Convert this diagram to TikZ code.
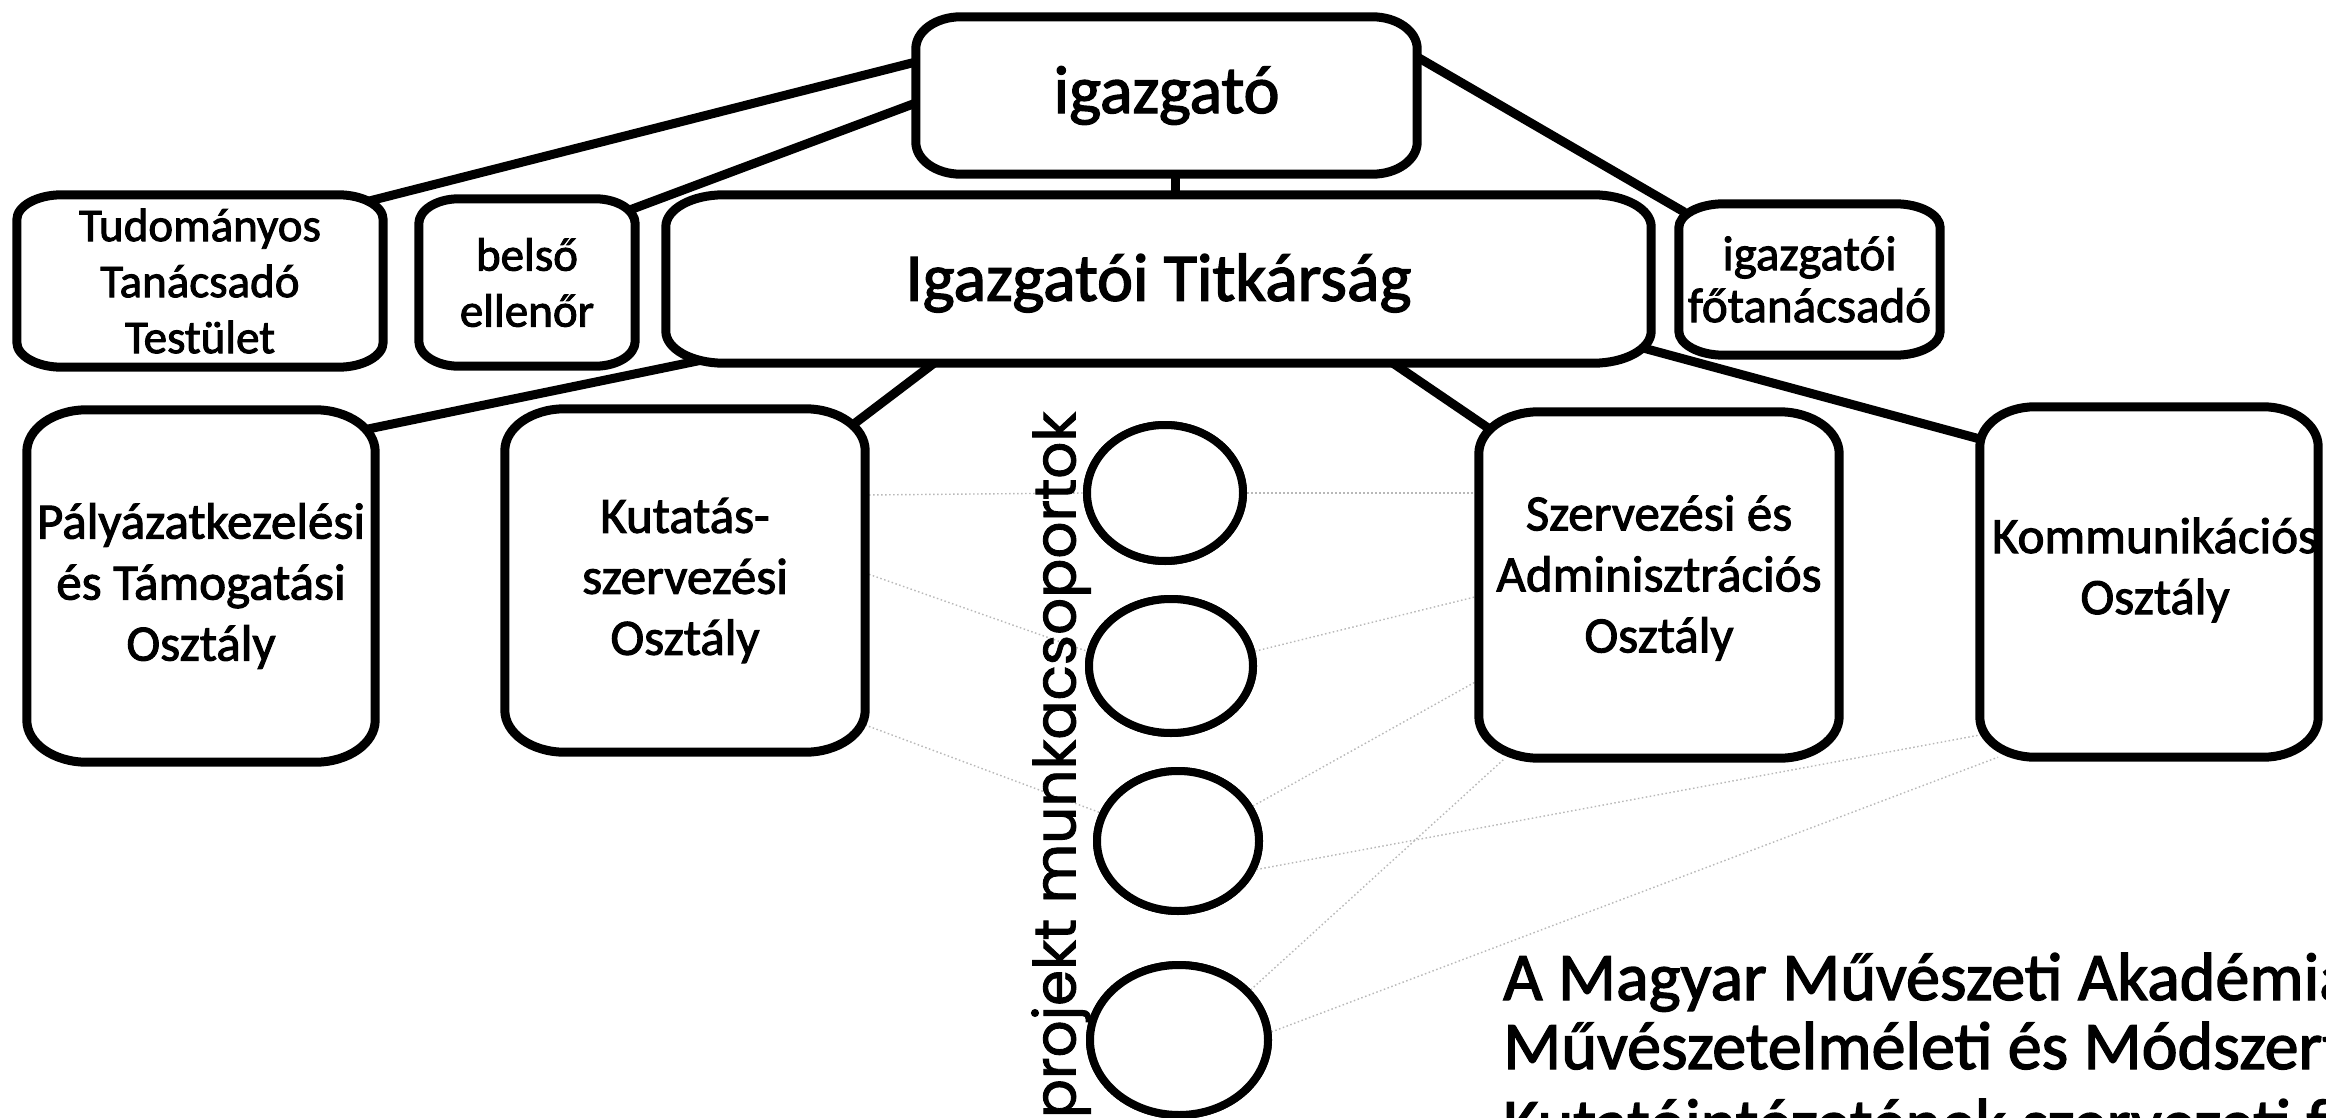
\documentclass[tikz,border=0pt]{standalone}
\usepackage{fontspec}
\setmainfont{Carlito}[FakeBold=2]
\newfontfamily\geofont{Poppins}[FakeBold=1.5]
\usetikzlibrary{shapes.geometric}
\newcommand\drawebox[3]{%
 \draw[boxline] ([xshift=#2]#1.north west) -- ([xshift=-#2]#1.north east)
   arc[start angle=90,end angle=0,x radius=#2,y radius=#3]
   -- ([yshift=#3]#1.south east)
   arc[start angle=0,end angle=-90,x radius=#2,y radius=#3]
   -- ([xshift=#2]#1.south west)
   arc[start angle=270,end angle=180,x radius=#2,y radius=#3]
   -- ([yshift=-#3]#1.north west)
   arc[start angle=180,end angle=90,x radius=#2,y radius=#3] -- cycle;}
\tikzset{
  boxline/.style={draw=black, line width=9pt, fill=white, line join=round},
  conn/.style={draw=black, line width=9pt, line cap=round},
  faint/.style={draw=black!28, line width=1.4pt, dash pattern=on 1.5pt off 2.5pt},
  holder/.style={inner sep=0pt, align=center, text=black},
  bigtext/.style={holder, font=\fontsize{68}{82}\selectfont},
  smalltext/.style={holder, font=\fontsize{47}{56}\selectfont},
  depttext/.style={holder, font=\fontsize{51}{61}\selectfont},
  grp/.style={draw=black, line width=8pt, ellipse, inner sep=0pt, fill=white},
  titletext/.style={inner sep=0pt, anchor=base west, font=\fontsize{68}{80}\selectfont}
}
\begin{document}
\begin{tikzpicture}[x=1pt, y=-1pt]
\useasboundingbox (0,0) rectangle (2326,1118);
\fill[white] (0,0) rectangle (2326,1118);
\clip (0,0) rectangle (2326,1118);

% holders (outlines drawn afterwards)
\node[bigtext, minimum width=501pt, minimum height=157pt] (ig) at (1166.5,95.5) {};
\node[bigtext, minimum width=985pt, minimum height=168pt] (tit) at (1158.5,279) {};
\node[smalltext, minimum width=366pt, minimum height=172pt] (tud) at (200,281) {};
\node[smalltext, minimum width=216pt, minimum height=167pt] (bel) at (527,282.5) {};
\node[smalltext, minimum width=261pt, minimum height=151pt] (fot) at (1809.5,279.5) {};
\node[depttext, minimum width=348pt, minimum height=352pt] (pal) at (201,586) {};
\node[depttext, minimum width=360pt, minimum height=343pt] (kut) at (685,580.5) {};
\node[depttext, minimum width=360pt, minimum height=346pt] (sze) at (1659,585) {};
\node[depttext, minimum width=338pt, minimum height=350pt] (kom) at (2149,582) {};

\coordinate (c1) at (1165,493);
\coordinate (c2) at (1171,666);
\coordinate (c3) at (1178,841);
\coordinate (c4) at (1179,1040);
\node[grp, minimum width=156pt, minimum height=136pt] (g1) at (c1) {};
\node[grp, minimum width=164pt, minimum height=134pt] (g2) at (c2) {};
\node[grp, minimum width=162pt, minimum height=140pt] (g3) at (c3) {};
\node[grp, minimum width=178pt, minimum height=150pt] (g4) at (c4) {};

% faint dotted links
\draw[faint] ([yshift=85.5pt]kut.east) -- (g1.west);
\draw[faint] (g1.east) -- ([yshift=92pt]sze.west);
\draw[faint] ([yshift=7.5pt]kut.east) -- (g2.170);
\draw[faint] (g2.10) -- ([yshift=-11pt]sze.west);
\draw[faint] ([yshift=-144.5pt]kut.east) -- (g3.160);
\draw[faint] (g3.25) -- ([yshift=-95pt]sze.west);
\draw[faint] (g3.-20) -- ([yshift=-153pt]kom.west);
\draw[faint] (g4.35) -- ([xshift=-154pt]sze.south);
\draw[faint] (g4.5) -- ([xshift=-151pt]kom.south);

% thick connectors
\draw[conn] ([yshift=33.5pt]ig.west) -- ([xshift=-17pt,yshift=-7pt]tud.north east);
\draw[conn] ([yshift=-7.5pt]ig.west) -- ([xshift=-5pt,yshift=-11pt]bel.north east);
\draw[conn] ([xshift=8.5pt]ig.south) -- ([xshift=8.5pt]ig.south |- tit.north);
\draw[conn] ([yshift=38.5pt]ig.east) -- ([xshift=5pt,yshift=-8pt]fot.north west);
\draw[conn] ([xshift=50pt,yshift=6pt]tit.south west) -- ([xshift=-11pt,yshift=-20pt]pal.north east);
\draw[conn] ([xshift=-224.5pt]tit.south) -- ([xshift=-15pt,yshift=-18pt]kut.north east);
\draw[conn] ([xshift=234.5pt]tit.south) -- ([xshift=12pt,yshift=-18pt]sze.north west);
\draw[conn] ([xshift=-11pt,yshift=16pt]tit.south east) -- ([xshift=3pt,yshift=-33pt]kom.north west);

% box outlines
\drawebox{ig}{45pt}{32pt}
\drawebox{tit}{58pt}{32pt}
\drawebox{tud}{45pt}{25pt}
\drawebox{bel}{40pt}{25pt}
\drawebox{fot}{45pt}{24pt}
\drawebox{pal}{60pt}{42pt}
\drawebox{kut}{60pt}{42pt}
\drawebox{sze}{60pt}{42pt}
\drawebox{kom}{55pt}{40pt}

% circles on top of the dotted lines
\node[grp, minimum width=156pt, minimum height=136pt] (r1) at (c1) {};
\node[grp, minimum width=164pt, minimum height=134pt] (r2) at (c2) {};
\node[grp, minimum width=162pt, minimum height=140pt] (r3) at (c3) {};
\node[grp, minimum width=178pt, minimum height=150pt] (r4) at (c4) {};

% texts
\node[bigtext] (igT) at (ig) {igazgató};
\node[bigtext] (titT) at (1158.5,283) {Igazgatói Titkárság};
\node[smalltext] (tudT) at (tud) {Tudományos\\Tanácsadó\\Testület};
\node[smalltext] (belT) at (bel) {belső\\ellenőr};
\node[holder, font=\fontsize{49}{52}\selectfont] (fotT) at (fot) {igazgatói\\főtanácsadó};
\node[depttext] (palT) at (pal) {Pályázatkezelési\\és Támogatási\\Osztály};
\node[depttext] (kutT) at (kut) {Kutatás-\\szervezési\\Osztály};
\node[depttext] (szeT) at (1659,578) {Szervezési és\\Adminisztrációs\\Osztály};
\node[depttext] (komT) at (2155,570) {Kommunikációs\\Osztály};

\node[inner sep=0pt, rotate=90, font=\geofont\fontsize{58}{70}\selectfont] (proj) at (1061,765) {projekt munkacsoportok};

\node[titletext] (t1) at (1503,1000) {A Magyar Művészeti Akadémia};
\node[titletext] (t2) at (1503,1069) {Művészetelméleti és Módszertani};
\node[titletext] (t3) at (1503,1146) {Kutatóintézetének szervezeti felépítése};
\end{tikzpicture}
\end{document}
